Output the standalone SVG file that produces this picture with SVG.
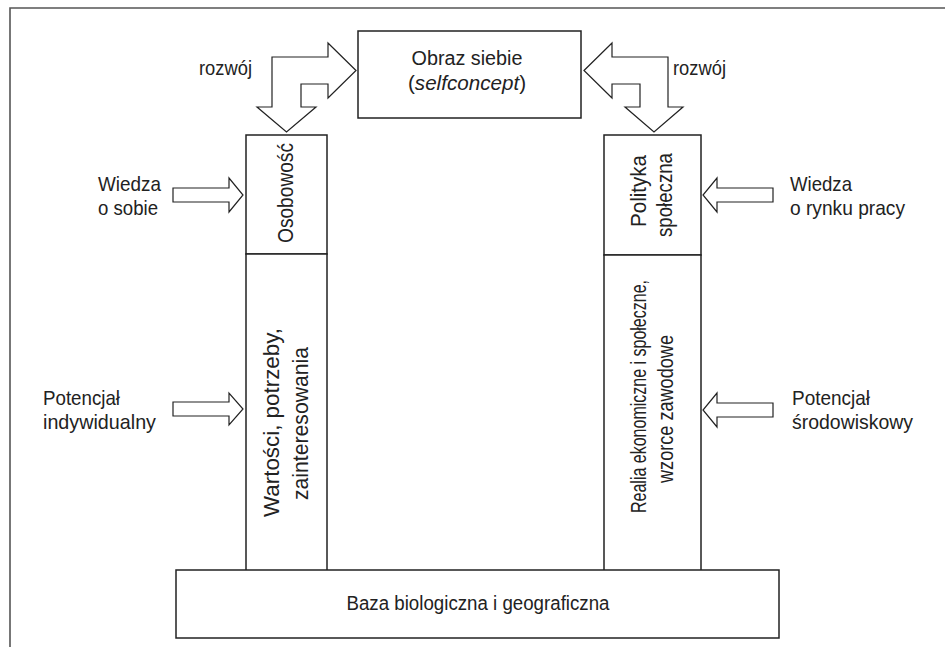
<svg xmlns="http://www.w3.org/2000/svg" width="945" height="647" viewBox="0 0 945 647">
<style>
.frame{fill:none;stroke:#555;stroke-width:1.6}
.box{fill:#fff;stroke:#222;stroke-width:1.5}
.arr{fill:#fff;stroke:#222;stroke-width:1.2;stroke-linejoin:miter}
text{font-family:"Liberation Sans",Arial,sans-serif;fill:#222}
.h{font-size:21px}
.c{font-size:20px;text-anchor:middle}
.v{font-size:22px;text-anchor:middle}
</style>
<rect width="945" height="647" fill="#fff"/>
<path class="frame" d="M10,647 L10,8 L945,8"/>
<g id="connectors">
<path class="arr" d="M356,70.5 L328,43 L328,57 L272,57 L272,107 L257,107 L286.5,132 L316,107 L301,107 L301,84 L328,84 L328,98 Z"/>
<path class="arr" d="M584,70.5 L612,43 L612,57 L668,57 L668,107 L683,107 L654,132 L625,107 L640,107 L640,84 L612,84 L612,98 Z"/>
<path class="arr" d="M173,188 L229,188 L229,178 L243,195 L229,212 L229,202 L173,202 Z"/>
<path class="arr" d="M773,188 L717,188 L717,178 L703,195 L717,212 L717,202 L773,202 Z"/>
<path class="arr" d="M173,402 L229,402 L229,393 L243,409 L229,425 L229,416 L173,416 Z"/>
<path class="arr" d="M773,403 L717,403 L717,393 L703,410 L717,427 L717,417 L773,417 Z"/>
</g>
<g id="label-rozwoj-left"><text class="h" x="199" y="75" textLength="53" lengthAdjust="spacingAndGlyphs">rozwój</text></g>
<g id="label-rozwoj-right"><text class="h" x="673" y="75" textLength="53" lengthAdjust="spacingAndGlyphs">rozwój</text></g>
<g id="node-obraz">
<rect class="box" x="358" y="31" width="223" height="87"/>
<text class="c" x="467" y="65" textLength="111" lengthAdjust="spacingAndGlyphs">Obraz siebie</text>
<text class="c" x="467" y="90" textLength="118" lengthAdjust="spacingAndGlyphs">(<tspan font-style="italic">selfconcept</tspan>)</text>
</g>
<g id="node-osobowosc">
<rect class="box" x="246" y="135" width="81" height="119"/>
<text class="v" transform="translate(293,193) rotate(-90)" textLength="100" lengthAdjust="spacingAndGlyphs">Osobowość</text>
</g>
<g id="node-wartosci">
<rect class="box" x="246" y="254" width="81" height="317"/>
<text class="v" transform="translate(279,422.5) rotate(-90)" textLength="189" lengthAdjust="spacingAndGlyphs">Wartości, potrzeby,</text>
<text class="v" transform="translate(308,423.5) rotate(-90)" textLength="153" lengthAdjust="spacingAndGlyphs">zainteresowania</text>
</g>
<g id="node-polityka">
<rect class="box" x="604" y="135" width="97" height="120"/>
<text class="v" transform="translate(646,191) rotate(-90)" textLength="72" lengthAdjust="spacingAndGlyphs">Polityka</text>
<text class="v" transform="translate(672,195) rotate(-90)" textLength="84" lengthAdjust="spacingAndGlyphs">społeczna</text>
</g>
<g id="node-realia">
<rect class="box" x="604" y="255" width="97" height="316"/>
<text class="v" transform="translate(646,396.5) rotate(-90)" textLength="233" lengthAdjust="spacingAndGlyphs">Realia ekonomiczne i społeczne,</text>
<text class="v" transform="translate(673,409) rotate(-90)" textLength="148" lengthAdjust="spacingAndGlyphs">wzorce zawodowe</text>
</g>
<g id="node-baza">
<rect class="box" x="176" y="570" width="603" height="68"/>
<text class="c" x="478" y="610" textLength="263" lengthAdjust="spacingAndGlyphs">Baza biologiczna i geograficzna</text>
</g>
<g id="label-wiedza-left"><text class="h" x="98" y="191" textLength="63" lengthAdjust="spacingAndGlyphs">Wiedza</text><text class="h" x="98" y="215" textLength="60" lengthAdjust="spacingAndGlyphs">o sobie</text></g>
<g id="label-wiedza-right"><text class="h" x="790" y="191" textLength="62" lengthAdjust="spacingAndGlyphs">Wiedza</text><text class="h" x="790" y="215" textLength="115" lengthAdjust="spacingAndGlyphs">o rynku pracy</text></g>
<g id="label-potencjal-left"><text class="h" x="43" y="405" textLength="77" lengthAdjust="spacingAndGlyphs">Potencjał</text><text class="h" x="43" y="429" textLength="113" lengthAdjust="spacingAndGlyphs">indywidualny</text></g>
<g id="label-potencjal-right"><text class="h" x="792" y="405" textLength="78" lengthAdjust="spacingAndGlyphs">Potencjał</text><text class="h" x="792" y="429" textLength="121" lengthAdjust="spacingAndGlyphs">środowiskowy</text></g>
</svg>
